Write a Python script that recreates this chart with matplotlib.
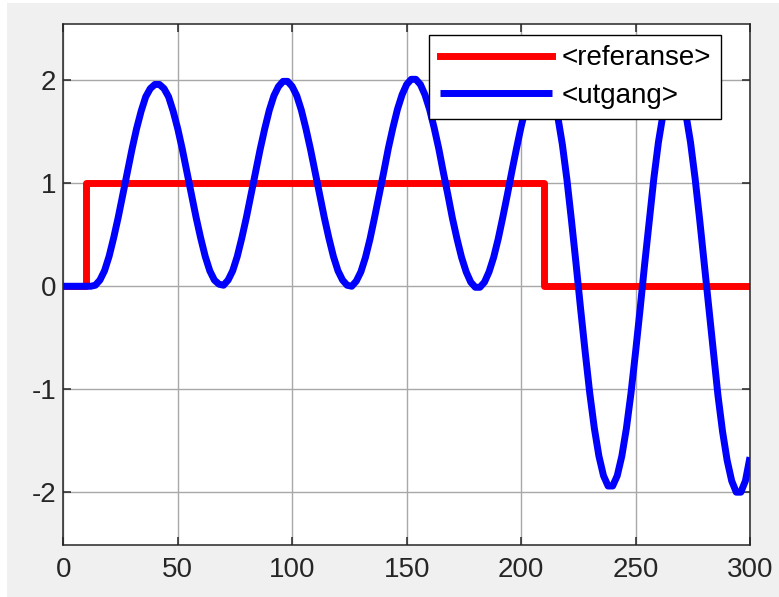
import numpy as np
import matplotlib
matplotlib.use('Agg')
import matplotlib.pyplot as plt
from matplotlib.patches import Rectangle

# reference signal (step up at 10, down at 210)
ref_t = [0, 10, 210, 300]
ref_y = [0, 1, 0, 0]

# output, every 2 time units (0..300)
out_t = np.arange(0, 301, 2)
out_y = [0, 0, 0, 0, 0, 0, 0,
         # t = 14 .. 68
         0.01, 0.06, 0.15, 0.29, 0.47, 0.67, 0.89, 1.11, 1.33, 1.53, 1.70, 1.84, 1.92, 1.96,
         1.96, 1.92, 1.84, 1.70, 1.53, 1.33, 1.11, 0.89, 0.67, 0.47, 0.29, 0.15, 0.06, 0.02,
         # t = 70 .. 124
         0.01, 0.06, 0.15, 0.29, 0.47, 0.67, 0.89, 1.11, 1.33, 1.53, 1.71, 1.85, 1.94, 1.99,
         1.99, 1.94, 1.85, 1.71, 1.53, 1.33, 1.11, 0.89, 0.67, 0.47, 0.29, 0.15, 0.06, 0.01,
         # t = 126 .. 180
         0.00, 0.05, 0.14, 0.28, 0.46, 0.67, 0.89, 1.11, 1.34, 1.54, 1.72, 1.86, 1.96, 2.01,
         2.01, 1.96, 1.86, 1.72, 1.54, 1.34, 1.11, 0.89, 0.66, 0.46, 0.28, 0.14, 0.04, -0.01,
         # t = 182 .. 212
         -0.01, 0.04, 0.14, 0.28, 0.46, 0.67, 0.89, 1.12, 1.34, 1.55, 1.73, 1.87, 1.97, 2.02,
         2.02, 1.96,
         # t = 214 .. 300
         1.85, 1.65, 1.38, 1.04, 0.64, 0.22, -0.22, -0.64, -1.04, -1.38, -1.65, -1.84, -1.94,
         -1.94, -1.84, -1.65, -1.38, -1.04, -0.64, -0.22, 0.22, 0.64, 1.05, 1.40, 1.67, 1.86, 1.96,
         1.96, 1.86, 1.67, 1.40, 1.05, 0.65, 0.22, -0.22, -0.65, -1.06, -1.41, -1.69, -1.89, -2.00,
         -2.00, -1.89, -1.66]

x_ticks = [0, 50, 100, 150, 200, 250, 300]
y_ticks = [-2, -1, 0, 1, 2]
labels = ['<referanse>', '<utgang>']

plt.rcParams['font.family'] = ['Liberation Sans', 'DejaVu Sans']
plt.rcParams['axes.unicode_minus'] = False

fig = plt.figure(figsize=(7.79, 5.97), dpi=100, facecolor='white')
# grey matlab-like figure background (thin white strip left/top)
fig.patches.append(Rectangle((7/779, 0), 1, 1 - 3.3/597, transform=fig.transFigure,
                             facecolor='#f0f0f0', edgecolor='none', zorder=-10))

ax = fig.add_axes([63.3/779, 1 - 544.7/597, (750 - 63.3)/779, (544.7 - 23.7)/597])
ax.set_facecolor('white')

ax.plot(ref_t, ref_y, color='red', lw=5, drawstyle='steps-post',
        solid_joinstyle='round', label=labels[0])
ax.plot(out_t, out_y, color='blue', lw=5, solid_joinstyle='round',
        solid_capstyle='butt', label=labels[1])

ax.set_xlim(0, 300)
ax.set_ylim(-2.51, 2.55)
ax.set_xticks(x_ticks)
ax.set_yticks(y_ticks)

ax.grid(True, color='#a8a8a8', lw=1.0)
ax.set_axisbelow(True)
for s in ax.spines.values():
    s.set_color('#262626')
    s.set_linewidth(1.1)
ax.tick_params(direction='in', length=6, width=1.1, color='#262626',
               labelcolor='#262626', labelsize=20, top=True, right=True)
ax.tick_params(axis='x', pad=9)
ax.tick_params(axis='y', pad=5)

leg = ax.legend(loc='upper right', bbox_to_anchor=((721 - 63.3)/686.7, 1 - (35 - 23.7)/521),
                borderaxespad=0, fontsize=20, handlelength=4.05, handletextpad=0.33,
                labelspacing=0.42, borderpad=0.37, fancybox=False, framealpha=1,
                edgecolor='black')
leg.get_frame().set_linewidth(1.0)

fig.savefig('out.png', dpi=100, facecolor=fig.get_facecolor())
